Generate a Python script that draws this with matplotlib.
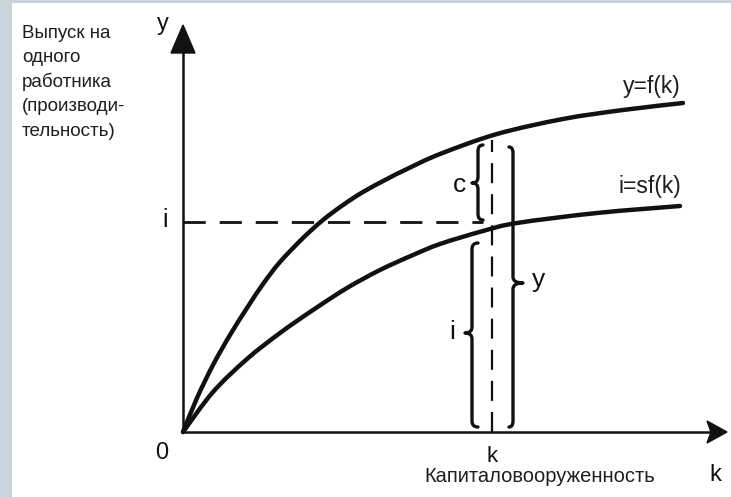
import matplotlib
matplotlib.use("Agg")
import matplotlib.pyplot as plt
from matplotlib.path import Path
from matplotlib.patches import PathPatch, Polygon, Rectangle

# ---- data (units: k and output) ----
k_upper = [0, 14, 30, 47, 64, 80, 97, 120, 140, 160, 180, 204, 224, 257, 314, 380, 440, 500]
f_upper = [0, 34, 67, 97, 124, 148, 170, 194, 212, 227, 240, 253, 263, 278, 298, 313, 322, 329]

k_lower = [0, 30, 64, 97, 130, 164, 197, 230, 257, 300, 334, 414, 497]
sf_lower = [0, 40, 73, 99, 122, 144, 162, 177, 188, 201, 209, 219, 226]

k_star = 309
i_level = 210

left_text = ["Выпуск на", "одного", "работника", "(производи-", "тельность)"]
x_label = "Капиталовооруженность"

FONT = ["Liberation Sans", "DejaVu Sans"]
plt.rcParams['font.family'] = FONT
INK = "#111111"
TXT = "#1e1e1e"

fig = plt.figure(figsize=(7.31, 4.97), dpi=100)
fig.patches.append(Rectangle((0, 0), 12 / 731, 1, transform=fig.transFigure,
                             facecolor="#c9d4db", edgecolor="none"))
fig.patches.append(Rectangle((0, 1 - 3 / 497), 1, 3 / 497, transform=fig.transFigure,
                             facecolor="#c9d4db", edgecolor="none"))
ax = fig.add_axes([12 / 731, 0, 1 - 12 / 731, 1 - 3 / 497])
ax.set_xlim(-171, 548)
ax.set_ylim(-65, 429)
ax.axis("off")

# axes
ax.plot([0, 0], [0, 385], color=INK, lw=1.8, solid_capstyle="butt")
ax.add_patch(Polygon([[0, 407], [-12, 379], [12, 379]], closed=True, color=INK))
ax.plot([0, 528], [0, 0], color=INK, lw=1.8, solid_capstyle="butt")
ax.add_patch(Polygon([[544, 0], [524, 11], [528, 0], [524, -11]], closed=True, color=INK))


def smooth_curve(xs, ys, lw):
    """draw a smooth (Catmull-Rom as Bezier) curve through the data points"""
    pts = list(zip(xs, ys))
    n = len(pts)
    verts = [pts[0]]
    codes = [Path.MOVETO]
    for i in range(n - 1):
        p0 = pts[i - 1] if i > 0 else pts[i]
        p1 = pts[i]
        p2 = pts[i + 1]
        p3 = pts[i + 2] if i + 2 < n else pts[i + 1]
        c1 = (p1[0] + (p2[0] - p0[0]) / 6, p1[1] + (p2[1] - p0[1]) / 6)
        c2 = (p2[0] - (p3[0] - p1[0]) / 6, p2[1] - (p3[1] - p1[1]) / 6)
        verts += [c1, c2, p2]
        codes += [Path.CURVE4] * 3
    ax.add_patch(PathPatch(Path(verts, codes), facecolor="none", edgecolor=INK,
                           lw=lw, capstyle="round"))


smooth_curve(k_upper, f_upper, 3.2)
smooth_curve(k_lower, sf_lower, 3.2)

# dashed guides
ax.plot([0, 300], [i_level, i_level], color=INK, lw=2.0, dashes=(8, 5))
ax.plot([k_star, k_star], [0, 292], color=INK, lw=1.6, dashes=(9, 5))


def brace(x, y0, y1, ym, tip, curl):
    """vertical curly brace at x from y0 to y1, pointing to tip at ym; ends curl by `curl`."""
    h = 6
    verts = [(x + curl, y1), (x, y1), (x, y1 - h),
             (x, ym + h), (x, ym), (tip, ym),
             (x, ym), (x, ym - h),
             (x, y0 + h), (x, y0), (x + curl, y0)]
    codes = [Path.MOVETO, Path.CURVE3, Path.CURVE3,
             Path.LINETO, Path.CURVE3, Path.CURVE3,
             Path.CURVE3, Path.CURVE3,
             Path.LINETO, Path.CURVE3, Path.CURVE3]
    ax.add_patch(PathPatch(Path(verts, codes), facecolor="none", edgecolor=INK,
                           lw=2.4, capstyle="round", joinstyle="round"))


brace(295, 212, 287, 249, 289, 5)     # c
brace(289, 5, 189, 99, 282, 6)        # i
brace(330, 5, 285, 149, 340, -4)      # y

# labels
ax.text(277, 247, "c", fontsize=19, ha="center", va="center", color=INK)
ax.text(269, 100, "i", fontsize=19, ha="center", va="center", color=INK)
ax.text(356, 152, "y", fontsize=19, ha="center", va="center", color=INK)

ax.text(469, 345, "y=f(k)", fontsize=16.5, ha="center", va="center", color=TXT)
ax.text(467, 245, "i=sf(k)", fontsize=16.5, ha="center", va="center", color=TXT)

ax.text(-20, 408, "y", fontsize=17, ha="center", va="center", color=INK)
ax.text(-18, 212, "i", fontsize=18, ha="center", va="center", color=INK)
ax.text(-21, -21, "0", fontsize=17, ha="center", va="center", color=INK)
ax.text(k_star, -25, "k", fontsize=16, ha="center", va="center", color=INK)
ax.text(532, -43, "k", fontsize=17, ha="center", va="center", color=INK)
ax.text(357, -44, x_label, fontsize=14.5, ha="center", va="center", color=TXT)

for n, line in enumerate(left_text):
    ax.text(-161, 399 - n * 24.5, line, fontsize=13.5, ha="left", va="center", color=TXT)

fig.savefig("out.png", dpi=100)
